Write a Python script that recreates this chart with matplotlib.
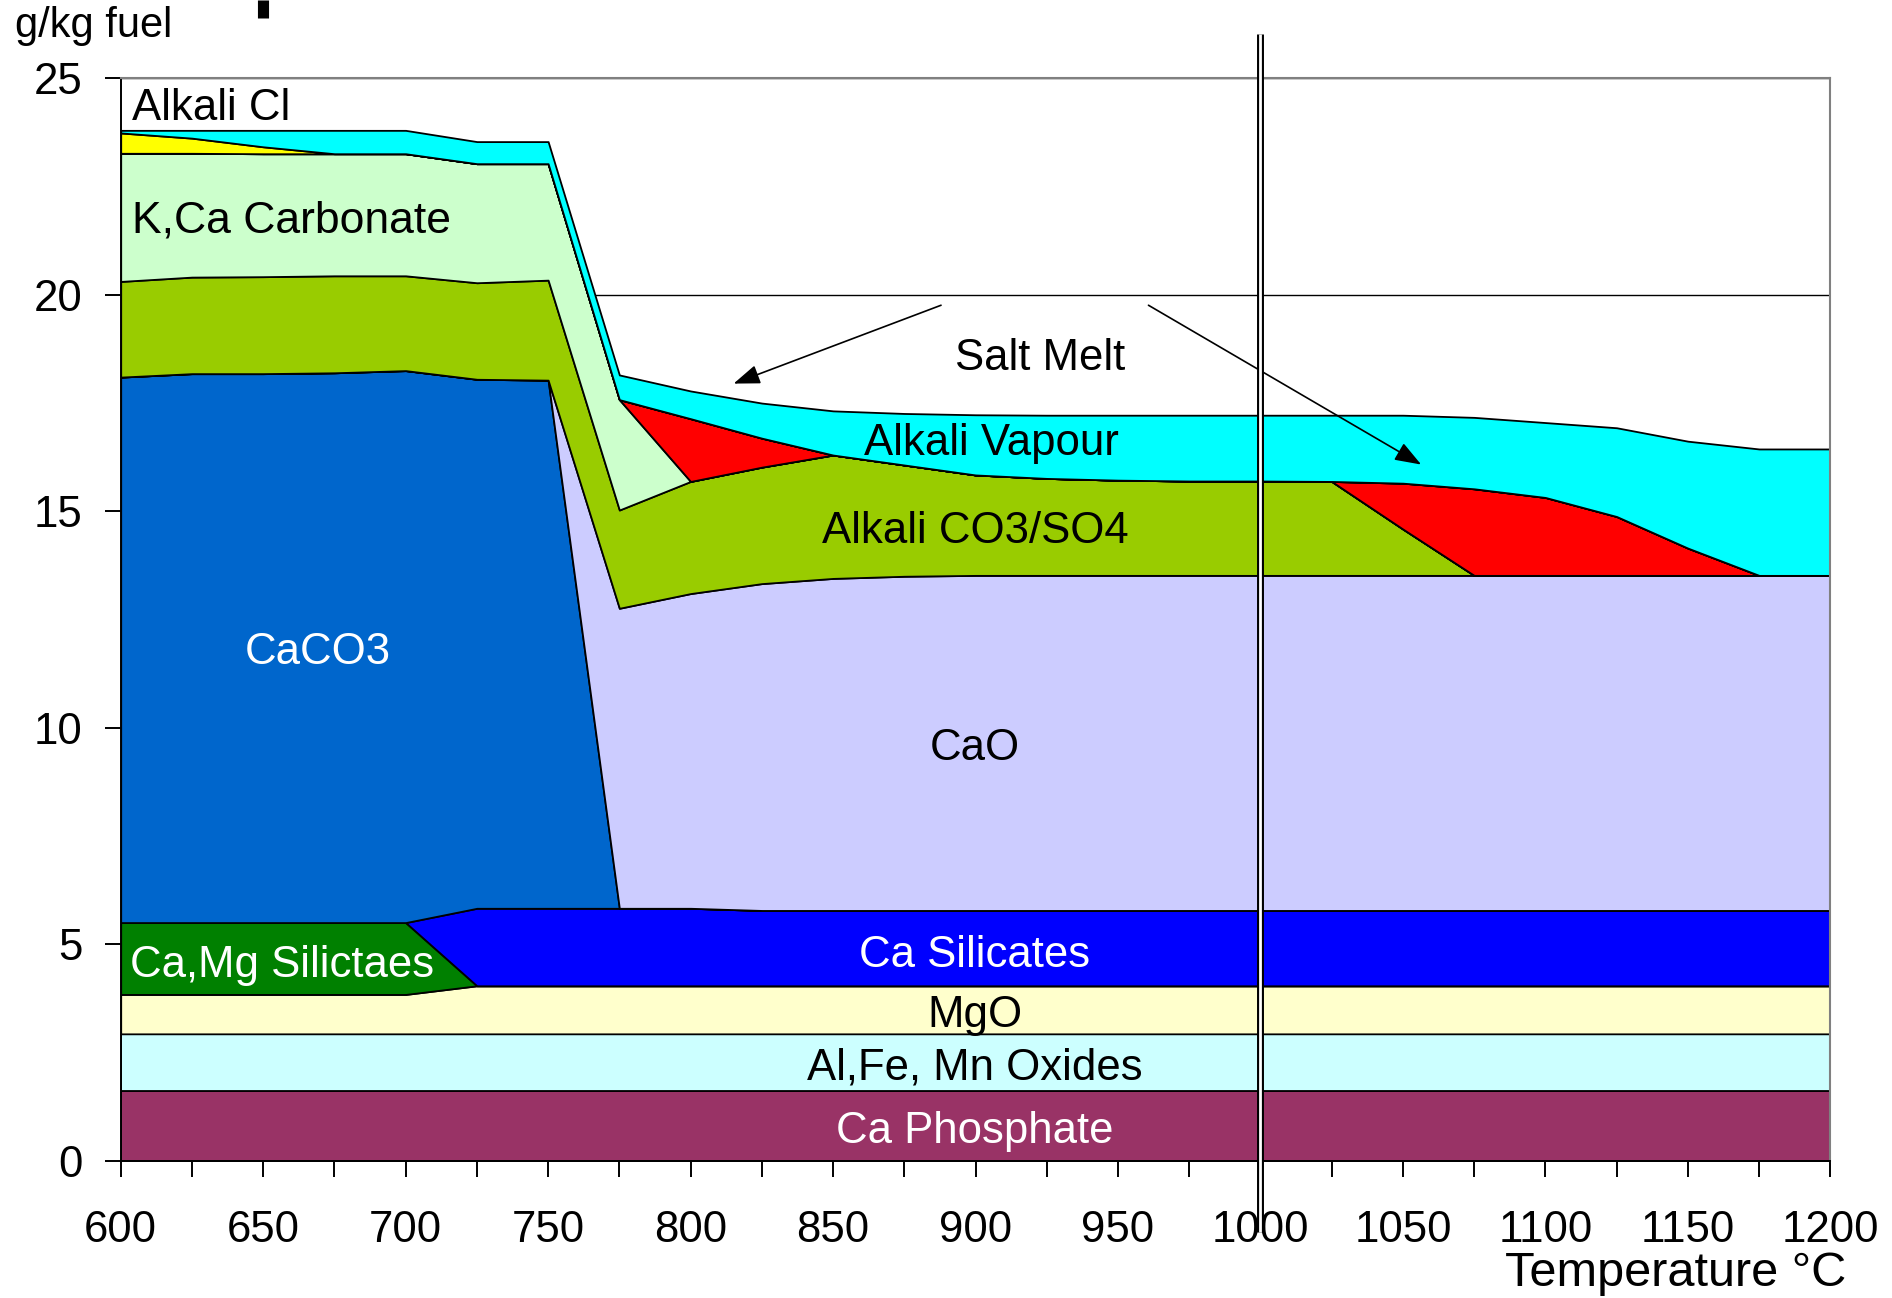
import matplotlib.pyplot as plt
import numpy as np
from matplotlib.lines import Line2D
from matplotlib.transforms import blended_transform_factory

plt.rcParams['font.family'] = ['Liberation Sans', 'DejaVu Sans']

# temperature steps, degC
temps = list(range(600, 1201, 25))

# layer thickness in g/kg fuel, bottom layer first
ca_phosphate = [1.62] * 25
oxides = [1.31] * 25
mgo = [0.91] * 5 + [1.11] * 20
camg_silicates = [1.66] * 5 + [0] * 20
ca_silicates = [0] * 5 + [1.79] * 4 + [1.74] * 16
caco3 = [12.60, 12.68, 12.68, 12.70, 12.75, 12.22, 12.20] + [0] * 18
cao = [0] * 7 + [6.93, 7.27, 7.55, 7.67, 7.72] + [7.74] * 13
alkali_co3 = [2.21, 2.23, 2.24, 2.24, 2.19, 2.23, 2.31, 2.27, 2.59, 2.69,
              2.85, 2.57, 2.32, 2.24, 2.20, 2.18, 2.18, 2.17, 1.07] + [0] * 6
kca_carbonate = [2.96, 2.86, 2.84, 2.82, 2.82, 2.75, 2.69, 2.55] + [0] * 17
salt_melt = [0] * 8 + [1.45, 0.67] + [0] * 8 + [1.06, 2.00, 1.80, 1.36, 0.63, 0, 0]
alkali_cl = [0.47, 0.35, 0.16] + [0] * 22
alkali_vapour = [0.06, 0.18, 0.38, 0.54, 0.54, 0.51, 0.51, 0.57, 0.64, 0.81,
                 1.02, 1.19, 1.39, 1.46, 1.50, 1.52, 1.52, 1.53, 1.57, 1.65,
                 1.73, 2.05, 2.47, 2.92, 2.92]

layers = [ca_phosphate, oxides, mgo, camg_silicates, ca_silicates, caco3, cao,
          alkali_co3, kca_carbonate, salt_melt, alkali_cl, alkali_vapour]
colors = ['#993366', '#CCFFFF', '#FFFFCC', '#008000', '#0000FF', '#0066CC',
          '#CCCCFF', '#99CC00', '#CCFFCC', '#FF0000', '#FFFF00', '#00FFFF']

fig = plt.figure(figsize=(18.92, 12.98), dpi=100)
ax = fig.add_axes([0.0638, 0.1058, 0.9036, 0.8338])

ax.set_axisbelow(True)
ax.yaxis.grid(True, color='black', linewidth=1.0)
ax.stackplot(temps, *layers, colors=colors, edgecolor='black', linewidth=1.3)

ax.set_xlim(600, 1200)
ax.set_ylim(0, 25)
ax.set_xticks(range(600, 1201, 50))
ax.set_xticks(range(600, 1201, 25), minor=True)
ax.set_yticks(range(0, 26, 5))
ax.tick_params(axis='both', which='both', direction='out', length=11.5,
               width=1.4, labelsize=31.5)
ax.tick_params(axis='x', which='both', pad=24)
ax.tick_params(axis='y', pad=16)
for side in ['left', 'bottom']:
    ax.spines[side].set_linewidth(1.4)
for side in ['top', 'right']:
    ax.spines[side].set_color('#808080')
    ax.spines[side].set_linewidth(1.5)

fs = 31.5
ax.text(604, 24.3, 'Alkali Cl', fontsize=fs, va='center')
ax.text(604, 21.7, 'K,Ca Carbonate', fontsize=32, va='center')
ax.text(669, 11.75, 'CaCO3', fontsize=fs, color='white', ha='center', va='center')
ax.text(922.6, 18.52, 'Salt Melt', fontsize=fs, ha='center', va='center')
ax.text(905.7, 16.57, 'Alkali Vapour', fontsize=fs, ha='center', va='center')
ax.text(899.8, 14.53, 'Alkali CO3/SO4', fontsize=fs, ha='center', va='center')
ax.text(899.8, 9.52, 'CaO', fontsize=fs, ha='center', va='center')
ax.text(899.8, 4.75, 'Ca Silicates', fontsize=fs, color='white', ha='center', va='center')
ax.text(603.4, 4.5, 'Ca,Mg Silictaes', fontsize=fs, color='white', va='center')
ax.text(899.8, 3.36, 'MgO', fontsize=fs, ha='center', va='center')
ax.text(899.8, 2.13, 'Al,Fe, Mn Oxides', fontsize=fs, ha='center', va='center')
ax.text(899.8, 0.68, 'Ca Phosphate', fontsize=fs, color='white', ha='center', va='center')

# arrows from the salt melt label
arrow = dict(arrowstyle='-|>,head_length=0.9,head_width=0.33', color='black',
             lw=1.2, mutation_scale=18, shrinkA=0, shrinkB=0)
ax.annotate('', xy=(815.1, 17.95), xytext=(887.9, 19.76), arrowprops=arrow)
ax.annotate('', xy=(1056.4, 16.08), xytext=(960.7, 19.76), arrowprops=arrow)

# double line marking 1000 degC
trans = blended_transform_factory(ax.transData, ax.transAxes)
ax.plot([1000, 1000], [-0.0656, 1.041], transform=trans, color='black',
        lw=5, clip_on=False, zorder=5, solid_capstyle='butt')
ax.plot([1000, 1000], [-0.0656, 1.041], transform=trans, color='white',
        lw=2.0, clip_on=False, zorder=6, solid_capstyle='butt')

fig.text(0.008, 0.980, 'g/kg fuel', fontsize=30, va='center')
fig.text(0.9757, 0.0185, 'Temperature \u00b0C', fontsize=35, ha='right', va='center')
fig.add_artist(Line2D([0.139, 0.139], [1.0, 0.986], color='black', lw=8,
                      solid_capstyle='butt'))

fig.savefig('out.png', dpi=100)
